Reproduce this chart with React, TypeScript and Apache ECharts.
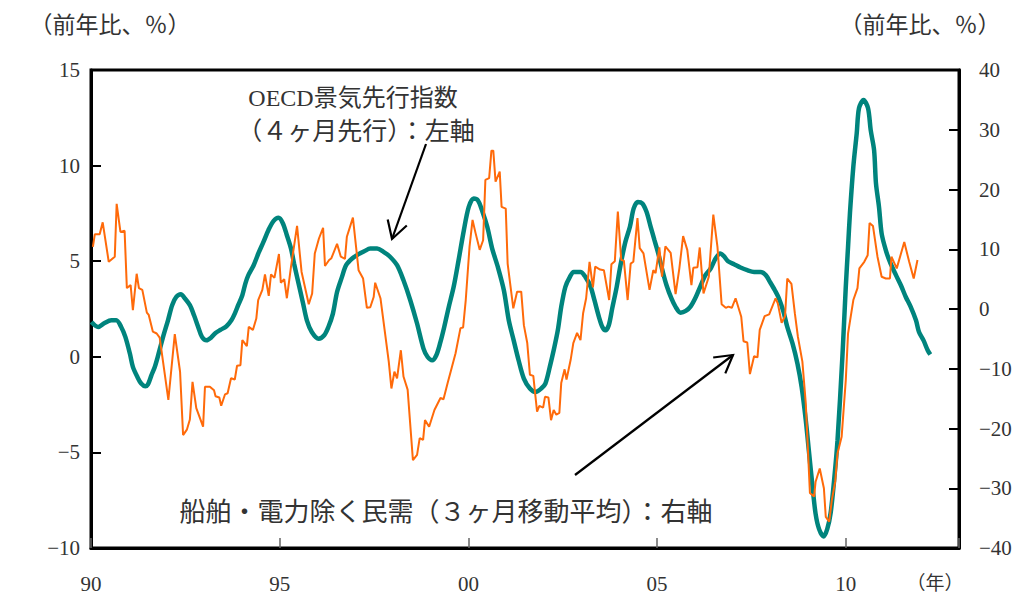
import React, { useEffect, useRef } from "react";
import * as echarts from "echarts";

// OECD leading indicator (4 months ahead), left axis, y/y %
const oecdYears = [
  1990.01, 1990.19, 1990.36, 1990.54, 1990.67, 1990.8, 1990.91, 1991.03, 1991.11, 1991.23,
  1991.33, 1991.44, 1991.51, 1991.6, 1991.69, 1991.78, 1991.91, 1992.04, 1992.15, 1992.26,
  1992.38, 1992.49, 1992.62, 1992.73, 1992.84, 1992.94, 1993.06, 1993.18, 1993.3, 1993.44,
  1993.59, 1993.72, 1993.81, 1993.9, 1994.01, 1994.09, 1994.17, 1994.31, 1994.44, 1994.57,
  1994.7, 1994.84, 1994.97, 1995.08, 1995.19, 1995.3, 1995.38, 1995.5, 1995.62, 1995.72,
  1995.85, 1996.03, 1996.18, 1996.29, 1996.41, 1996.52, 1996.65, 1996.76, 1996.92, 1997.09,
  1997.24, 1997.4, 1997.58, 1997.75, 1997.91, 1998.11, 1998.28, 1998.46, 1998.64, 1998.81,
  1998.92, 1999.04, 1999.15, 1999.26, 1999.36, 1999.48, 1999.61, 1999.74, 1999.88, 2000.01,
  2000.14, 2000.25, 2000.36, 2000.5, 2000.63, 2000.78, 2000.94, 2001.07, 2001.2, 2001.33,
  2001.47, 2001.63, 2001.78, 2001.93, 2002.04, 2002.16, 2002.26, 2002.37, 2002.46, 2002.57,
  2002.69, 2002.79, 2002.97, 2003.1, 2003.24, 2003.34, 2003.46, 2003.55, 2003.63, 2003.72,
  2003.81, 2003.93, 2004.03, 2004.16, 2004.28, 2004.38, 2004.49, 2004.61, 2004.72, 2004.83,
  2004.93, 2005.02, 2005.14, 2005.25, 2005.38, 2005.49, 2005.62, 2005.76, 2005.89, 2006.02,
  2006.15, 2006.28, 2006.42, 2006.55, 2006.67, 2006.77, 2006.88, 2007.04, 2007.21, 2007.39,
  2007.57, 2007.74, 2007.88, 2007.99, 2008.12, 2008.23, 2008.35, 2008.45, 2008.59, 2008.72,
  2008.83, 2008.94, 2009.03, 2009.12, 2009.2, 2009.29, 2009.41, 2009.51, 2009.6, 2009.69,
  2009.78, 2009.91, 2010.0, 2010.06, 2010.11, 2010.2, 2010.29, 2010.35, 2010.47, 2010.59,
  2010.66, 2010.75, 2010.8, 2010.88, 2010.95, 2011.06, 2011.17, 2011.33, 2011.46, 2011.59,
  2011.72, 2011.86, 2011.94, 2012.06, 2012.17, 2012.24,
];
const oecdValues = [
  1.82, 1.56, 1.77, 1.91, 1.91, 1.56, 1.04, 0.17, -0.53, -1.06,
  -1.4, -1.54, -1.44, -0.97, -0.53, 0.08, 1.04, 1.91, 2.7, 3.13,
  3.27, 3.05, 2.7, 2.17, 1.56, 1.04, 0.86, 1.0, 1.25, 1.42,
  1.6, 1.91, 2.26, 2.7, 3.22, 3.83, 4.27, 4.79, 5.43, 6.01,
  6.62, 7.11, 7.27, 7.0, 6.36, 5.66, 4.88, 3.83, 2.79, 1.91,
  1.3, 0.95, 1.13, 1.56, 2.26, 3.39, 4.18, 4.79, 5.14, 5.37,
  5.52, 5.66, 5.66, 5.49, 5.26, 4.79, 4.0, 2.96, 1.74, 0.43,
  -0.01, -0.18, 0.08, 0.78, 1.56, 2.61, 3.66, 5.05, 6.62, 7.84,
  8.28, 8.19, 7.67, 6.8, 5.66, 4.7, 3.48, 1.91, 0.86, -0.18,
  -1.14, -1.66, -1.84, -1.66, -1.4, -0.5, 0.34, 1.39, 2.61, 3.66,
  4.18, 4.44, 4.44, 4.18, 3.66, 2.96, 2.08, 1.56, 1.39, 1.65,
  2.52, 3.66, 4.79, 6.01, 6.8, 7.76, 8.1, 8.02, 7.58, 6.8,
  6.1, 5.49, 4.53, 3.74, 3.05, 2.61, 2.31, 2.4, 2.64, 3.1,
  3.7, 4.27, 4.62, 5.14, 5.4, 5.26, 5.0, 4.84, 4.67, 4.53,
  4.44, 4.44, 4.27, 3.92, 3.48, 3.05, 2.35, 1.56, 0.69, -0.36,
  -1.58, -3.32, -5.07, -6.81, -8.21, -9.0, -9.4, -9.0, -8.15, -6.47,
  -4.4, 0.0, 3.66, 5.75, 7.5, 9.94, 11.69, 13.0, 13.43, 13.0,
  11.86, 10.81, 9.07, 7.84, 6.45, 5.58, 4.96, 4.27, 3.74, 3.13,
  2.61, 1.91, 1.3, 0.86, 0.34, 0.12,
];

// Private demand excl. ships & electric power (3-month moving average), right axis, y/y %
const demandYears = [
  1990.05, 1990.1, 1990.23, 1990.31, 1990.47, 1990.63, 1990.68, 1990.78, 1990.89, 1990.95,
  1991.05, 1991.11, 1991.21, 1991.27, 1991.36, 1991.48, 1991.53, 1991.64, 1991.74, 1991.82,
  1992.05, 1992.22, 1992.36, 1992.44, 1992.54, 1992.62, 1992.69, 1992.79, 1992.97, 1993.02,
  1993.15, 1993.26, 1993.3, 1993.4, 1993.45, 1993.55, 1993.62, 1993.71, 1993.81, 1993.87,
  1993.96, 1994.01, 1994.13, 1994.18, 1994.29, 1994.38, 1994.43, 1994.54, 1994.61, 1994.71,
  1994.77, 1994.86, 1994.98, 1995.03, 1995.12, 1995.19, 1995.3, 1995.46, 1995.58, 1995.77,
  1995.86, 1995.93, 1996.04, 1996.15, 1996.2, 1996.31, 1996.37, 1996.52, 1996.62, 1996.73,
  1996.78, 1996.94, 1997.09, 1997.21, 1997.31, 1997.4, 1997.49, 1997.53, 1997.67, 1997.89,
  1997.96, 1998.04, 1998.11, 1998.21, 1998.28, 1998.39, 1998.53, 1998.64, 1998.71, 1998.8,
  1998.85, 1998.96, 1999.1, 1999.26, 1999.34, 1999.45, 1999.56, 1999.66, 1999.79, 1999.86,
  1999.93, 2000.03, 2000.11, 2000.19, 2000.3, 2000.39, 2000.45, 2000.55, 2000.61, 2000.66,
  2000.72, 2000.83, 2000.88, 2000.99, 2001.04, 2001.19, 2001.29, 2001.4, 2001.47, 2001.56,
  2001.63, 2001.72, 2001.82, 2001.88, 2001.98, 2002.03, 2002.12, 2002.19, 2002.26, 2002.33,
  2002.41, 2002.46, 2002.55, 2002.6, 2002.71, 2002.78, 2002.88, 2002.97, 2003.04, 2003.12,
  2003.21, 2003.3, 2003.36, 2003.49, 2003.59, 2003.73, 2003.79, 2003.88, 2003.96, 2004.05,
  2004.12, 2004.22, 2004.3, 2004.37, 2004.48, 2004.54, 2004.64, 2004.8, 2004.9, 2004.96,
  2005.06, 2005.13, 2005.22, 2005.36, 2005.49, 2005.59, 2005.69, 2005.8, 2005.91, 2005.96,
  2006.07, 2006.13, 2006.23, 2006.37, 2006.49, 2006.6, 2006.71, 2006.82, 2006.89, 2006.98,
  2007.08, 2007.23, 2007.29, 2007.39, 2007.46, 2007.57, 2007.66, 2007.72, 2007.85, 2007.97,
  2008.14, 2008.2, 2008.3, 2008.39, 2008.45, 2008.56, 2008.65, 2008.73, 2008.85, 2008.94,
  2009.05, 2009.16, 2009.2, 2009.31, 2009.42, 2009.47, 2009.56, 2009.63, 2009.72, 2009.78,
  2009.89, 2010.0, 2010.06, 2010.2, 2010.31, 2010.36, 2010.49, 2010.58, 2010.63, 2010.72,
  2010.84, 2010.95, 2011.06, 2011.17, 2011.21, 2011.35, 2011.55, 2011.68, 2011.8, 2011.9,
];
const demandValues = [
  10.4, 12.5, 12.5, 14.5, 7.9, 8.75, 17.6, 12.9, 13.1, 3.5,
  4.0, -0.2, 5.9, 3.5, 3.2, -0.6, -1.0, -3.8, -4.1, -4.8,
  -15.2, -4.2, -10.5, -21.1, -20.2, -18.5, -12.2, -16.6, -19.7, -13.0,
  -13.0, -13.6, -14.6, -14.8, -16.2, -14.3, -14.1, -11.6, -11.8, -9.5,
  -9.4, -5.2, -6.2, -3.0, -3.5, -1.6, 1.5, 3.2, 5.8, 2.2,
  5.8, 5.2, 9.2, 4.4, 5.0, 1.8, 7.1, 13.9, 6.2, 0.8,
  2.6, 9.3, 11.8, 13.6, 7.2, 8.2, 8.5, 10.9, 8.75, 8.4,
  12.1, 15.3, 6.5, 5.1, 0.2, 0.3, 2.0, 4.4, 1.8, -8.8,
  -13.3, -10.5, -11.6, -6.9, -11.3, -13.5, -25.3, -24.4, -21.6, -21.9,
  -18.6, -19.7, -16.9, -14.9, -15.1, -12.4, -9.8, -7.4, -3.2, -3.1,
  1.5, 10.4, 14.9, 12.7, 9.9, 11.5, 21.6, 21.9, 26.5, 26.5,
  21.3, 23.0, 17.1, 16.8, 7.6, 0.1, 2.9, 2.9, -2.7, -5.7,
  -11.0, -11.2, -17.2, -16.2, -16.5, -14.7, -14.8, -18.6, -16.9, -17.7,
  -17.4, -12.4, -10.1, -11.8, -8.5, -5.7, -4.0, -5.2, -0.7, 1.8,
  7.9, 3.6, 7.1, 6.6, 6.5, 1.5, 7.5, 8.0, 16.3, 8.2,
  8.1, 1.5, 7.6, 7.9, 15.2, 10.2, 9.3, 3.2, 6.5, 6.0,
  10.3, 5.4, 10.5, 9.4, 2.5, 6.8, 12.2, 9.9, 4.0, 6.9,
  7.0, 10.3, 2.6, 5.4, 15.8, 10.4, 0.8, 0.2, 0.4, 0.2,
  1.8, -1.3, -5.4, -5.6, -10.9, -7.9, -8.1, -3.5, -1.2, -0.9,
  1.8, 0.9, -2.3, -1.2, 5.1, 4.2, -0.7, -4.6, -8.8, -15.8,
  -30.8, -31.4, -28.9, -26.7, -30.0, -34.8, -35.6, -32.0, -28.9, -24.2,
  -21.4, -11.9, -4.1, 1.5, 3.5, 6.8, 7.9, 9.0, 14.4, 13.9,
  8.75, 5.4, 5.1, 5.1, 8.75, 6.8, 11.2, 7.9, 5.1, 8.2,
];

const xMin = 1990;
const xMax = 2013;
const xInterval = 5;
const leftMin = -10;
const leftMax = 15;
const leftInterval = 5;
const rightMin = -40;
const rightMax = 40;
const rightInterval = 10;

const unitLabel = "（前年比、％）";
const yearUnit = "（年）";
const oecdLabel1 = "OECD景気先行指数";
const oecdLabel2 = "（４ヶ月先行）：左軸";
const demandLabel = "船舶・電力除く民需（３ヶ月移動平均）：右軸";

const serif = "'Liberation Serif', 'Noto Sans CJK JP', serif";
const jp = "'Liberation Serif', 'Noto Sans CJK JP', sans-serif";

const fmtNum = (v: number) => (v < 0 ? "−" + Math.abs(v) : String(v));

export default function App() {
  const ref = useRef<HTMLDivElement>(null);
  useEffect(() => {
    document.body.style.margin = "0";
    if (!ref.current) return;
    const chart = echarts.init(ref.current, undefined, { renderer: "svg" });
    const oecd = oecdYears.map((x, i) => [x, oecdValues[i]]);
    const demand = demandYears.map((x, i) => [x, demandValues[i]]);
    const textColor = "#333";
    const arrowStyle = { stroke: "#000", lineWidth: 2.2 };
    const frameLine = { show: true, onZero: false, lineStyle: { color: "#000", width: 3 } };
    chart.setOption({
      animation: false,
      backgroundColor: "#fff",
      textStyle: { fontFamily: serif },
      grid: {
        left: 91,
        right: 76,
        top: 70,
        bottom: 51,
        show: true,
        borderColor: "#000",
        borderWidth: 3,
        backgroundColor: "transparent",
      },
      xAxis: {
        type: "value",
        min: xMin,
        max: xMax,
        interval: xInterval,
        axisLine: frameLine,
        axisTick: {
          show: true,
          inside: true,
          length: 10,
          lineStyle: { color: "#666", width: 1.5 },
        },
        splitLine: { show: false },
        axisLabel: {
          margin: 25,
          fontSize: 21,
          color: textColor,
          fontFamily: serif,
          formatter: (v: number) =>
            v % 5 === 0 && v < xMax ? String(v % 100).padStart(2, "0") : "",
        },
      },
      yAxis: [
        {
          type: "value",
          min: leftMin,
          max: leftMax,
          interval: leftInterval,
          axisLine: frameLine,
          axisTick: {
            show: true,
            inside: true,
            length: 10,
            lineStyle: { color: "#000", width: 2 },
          },
          splitLine: { show: false },
          axisLabel: {
            margin: 11,
            fontSize: 21,
            color: textColor,
            fontFamily: serif,
            formatter: fmtNum,
          },
        },
        {
          type: "value",
          min: rightMin,
          max: rightMax,
          interval: rightInterval,
          position: "right",
          axisLine: frameLine,
          axisTick: {
            show: true,
            inside: true,
            length: 10,
            lineStyle: { color: "#000", width: 2 },
          },
          splitLine: { show: false },
          axisLabel: {
            margin: 20,
            fontSize: 21,
            color: textColor,
            fontFamily: serif,
            formatter: fmtNum,
          },
        },
      ],
      series: [
        {
          name: "OECD景気先行指数",
          type: "line",
          yAxisIndex: 0,
          data: oecd,
          showSymbol: false,
          symbol: "none",
          smooth: 0.3,
          lineStyle: { color: "#00847d", width: 4.5 },
          z: 2,
        },
        {
          name: "船舶・電力除く民需",
          type: "line",
          yAxisIndex: 1,
          data: demand,
          showSymbol: false,
          symbol: "none",
          lineStyle: { color: "#ff6a0a", width: 2 },
          z: 3,
        },
      ],
      graphic: [
        {
          type: "text",
          x: 110,
          y: 25,
          style: {
            text: unitLabel,
            fontSize: 23,
            fontFamily: jp,
            fill: textColor,
            align: "center",
            verticalAlign: "middle",
          },
        },
        {
          type: "text",
          x: 920,
          y: 25,
          style: {
            text: unitLabel,
            fontSize: 23,
            fontFamily: jp,
            fill: textColor,
            align: "center",
            verticalAlign: "middle",
          },
        },
        {
          type: "text",
          x: 935,
          y: 583,
          style: {
            text: yearUnit,
            fontSize: 19,
            fontFamily: jp,
            fill: textColor,
            align: "center",
            verticalAlign: "middle",
          },
        },
        {
          type: "text",
          x: 353,
          y: 98,
          z: 10,
          style: {
            text: oecdLabel1,
            fontSize: 24,
            fontFamily: jp,
            fill: textColor,
            align: "center",
            verticalAlign: "middle",
          },
        },
        {
          type: "text",
          x: 356,
          y: 131,
          z: 10,
          style: {
            text: oecdLabel2,
            fontSize: 25,
            fontFamily: jp,
            fill: textColor,
            align: "center",
            verticalAlign: "middle",
          },
        },
        {
          type: "text",
          x: 446,
          y: 512,
          z: 10,
          style: {
            text: demandLabel,
            fontSize: 26,
            fontFamily: jp,
            fill: textColor,
            align: "center",
            verticalAlign: "middle",
          },
        },
        {
          type: "line",
          z: 10,
          shape: { x1: 426, y1: 144, x2: 392, y2: 239 },
          style: arrowStyle,
        },
        {
          type: "polyline",
          z: 10,
          shape: { points: [[406.8, 225.5], [392, 239], [387.7, 219.5]] },
          style: { ...arrowStyle, fill: null },
        },
        {
          type: "line",
          z: 10,
          shape: { x1: 575, y1: 475, x2: 733, y2: 355 },
          style: arrowStyle,
        },
        {
          type: "polyline",
          z: 10,
          shape: { points: [[713.2, 357.5], [733, 355], [725.3, 373.4]] },
          style: { ...arrowStyle, fill: null },
        },
      ],
    });
    return () => chart.dispose();
  }, []);
  return <div ref={ref} style={{ width: 1035, height: 599 }} />;
}
